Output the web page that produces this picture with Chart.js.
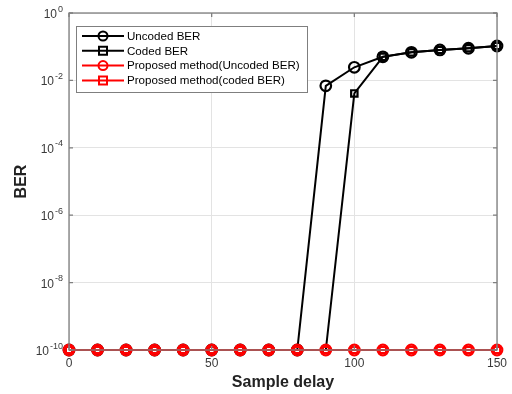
<!DOCTYPE html>
<html><head><meta charset="utf-8">
<script src="https://cdn.jsdelivr.net/npm/chart.js@4/dist/chart.umd.min.js"></script>
<style>html,body{margin:0;padding:0;background:#fff}#wrap{width:512px;height:394px}</style>
</head><body><div id="wrap"><canvas id="c" width="512" height="394"></canvas></div>
<script>
const sampleDelay = [0,10,20,30,40,50,60,70,80,90,100,110,120,130,140,150];
const uncodedBER = [1e-10,1e-10,1e-10,1e-10,1e-10,1e-10,1e-10,1e-10,1e-10,6.9e-3,2.45e-2,5e-2,6.8e-2,8e-2,9e-2,1.05e-1];
const codedBER   = [1e-10,1e-10,1e-10,1e-10,1e-10,1e-10,1e-10,1e-10,1e-10,1e-10,4.1e-3,5e-2,6.8e-2,8e-2,9e-2,1.05e-1];
const proposedUncoded = [1e-10,1e-10,1e-10,1e-10,1e-10,1e-10,1e-10,1e-10,1e-10,1e-10,1e-10,1e-10,1e-10,1e-10,1e-10,1e-10];
const proposedCoded   = [1e-10,1e-10,1e-10,1e-10,1e-10,1e-10,1e-10,1e-10,1e-10,1e-10,1e-10,1e-10,1e-10,1e-10,1e-10,1e-10];
const xTicks = [0,50,100,150];
const yExponents = [0,-2,-4,-6,-8,-10];
const seriesNames = ['Uncoded BER','Coded BER','Proposed method(Uncoded BER)','Proposed method(coded BER)'];

const pts = arr => sampleDelay.map((x,i)=>({x, y:arr[i]}));
const FONT = '"Liberation Sans", Arial, sans-serif';

const styles = [
  {color:'#000', shape:'circle', order:2},
  {color:'#000', shape:'rect', order:2},
  {color:'#ff0000', shape:'circle', order:0},
  {color:'#ff0000', shape:'rect', order:0}
];
const datasets = [uncodedBER, codedBER, proposedUncoded, proposedCoded].map((arr,i)=>({
  label: seriesNames[i],
  data: pts(arr),
  borderColor: styles[i].color,
  backgroundColor: 'rgba(0,0,0,0)',
  pointBorderColor: styles[i].color,
  pointBackgroundColor: 'rgba(0,0,0,0)',
  pointStyle: styles[i].shape,
  pointRadius: styles[i].shape==='rect'?4.5:5.3,
  pointBorderWidth: 2.2,
  borderWidth: 2,
  tension: 0,
  order: styles[i].order,
  clip: false
}));

function drawMarker(ctx, shape, x, y, r, color){
  ctx.save();
  ctx.strokeStyle=color; ctx.lineWidth=2;
  ctx.beginPath();
  if(shape==='circle'){ ctx.arc(x,y,r,0,Math.PI*2); }
  else { ctx.rect(x-r,y-r,2*r,2*r); }
  ctx.stroke();
  ctx.restore();
}

const framePlugin = {
  id:'frame',
  afterDraw(chart){
    const ctx = chart.ctx, a = chart.chartArea;
    const xs = chart.scales.x, ys = chart.scales.y;
    ctx.save();
    ctx.strokeStyle='#7f7f7f'; ctx.lineWidth=1.3;
    ctx.strokeRect(a.left, a.top, a.right-a.left, a.bottom-a.top);
    ctx.beginPath();
    xTicks.forEach(v=>{const px=xs.getPixelForValue(v);
      ctx.moveTo(px,a.bottom); ctx.lineTo(px,a.bottom-4);
      ctx.moveTo(px,a.top); ctx.lineTo(px,a.top+4);});
    yExponents.forEach(e=>{const py=ys.getPixelForValue(Math.pow(10,e));
      ctx.moveTo(a.left,py); ctx.lineTo(a.left+4,py);
      ctx.moveTo(a.right,py); ctx.lineTo(a.right-4,py);});
    ctx.stroke();
    ctx.fillStyle='#3a3a3a';
    yExponents.forEach(e=>{
      const py=ys.getPixelForValue(Math.pow(10,e));
      const sup=String(e);
      ctx.font='9px '+FONT;
      const sw=ctx.measureText(sup).width;
      ctx.font='12px '+FONT;
      const bw=ctx.measureText('10').width;
      const right=a.left-6;
      ctx.textBaseline='alphabetic'; ctx.textAlign='left';
      ctx.fillText('10', right-sw-bw-1, py+5);
      ctx.font='9px '+FONT;
      ctx.fillText(sup, right-sw, py-1.5);
    });
    const lx=76, ly=26, lw=231, lh=66;
    ctx.fillStyle='#fff'; ctx.fillRect(lx,ly,lw,lh);
    ctx.strokeStyle='#7f7f7f'; ctx.lineWidth=1; ctx.strokeRect(lx+0.5,ly+0.5,lw,lh);
    seriesNames.forEach((n,i)=>{
      const yy = ly+10+i*14.8;
      const c = styles[i].color;
      ctx.strokeStyle=c; ctx.lineWidth=2;
      ctx.beginPath(); ctx.moveTo(82,yy); ctx.lineTo(124,yy); ctx.stroke();
      drawMarker(ctx, styles[i].shape, 103, yy, styles[i].shape==='rect'?4:4.5, c);
      ctx.fillStyle='#000'; ctx.font='11.6px '+FONT; ctx.textAlign='left'; ctx.textBaseline='middle';
      ctx.fillText(n, 127, yy+0.5);
    });
    ctx.fillStyle='#222'; ctx.font='bold 16px '+FONT; ctx.textAlign='center'; ctx.textBaseline='middle';
    ctx.fillText('Sample delay', (a.left+a.right)/2, 383);
    ctx.save(); ctx.translate(22, (a.top+a.bottom)/2); ctx.rotate(-Math.PI/2);
    ctx.fillText('BER', 0, 0); ctx.restore();
    ctx.restore();
  }
};

new Chart(document.getElementById('c'), {
  type:'line',
  data:{datasets},
  options:{
    responsive:false, animation:false, devicePixelRatio:1,
    layout:{padding:{top:13,right:15,left:0,bottom:0}},
    plugins:{legend:{display:false}, tooltip:{enabled:false}},
    scales:{
      x:{type:'linear', min:0, max:150,
        afterBuildTicks(s){ s.ticks = xTicks.map(v=>({value:v})); },
        afterFit(s){ s.height=44; s.paddingRight=0; s.paddingLeft=0; },
        grid:{color:'#e3e3e3', drawTicks:false, lineWidth:1},
        border:{display:false},
        ticks:{padding:6, color:'#3a3a3a', font:{family:FONT,size:12}, maxRotation:0}
      },
      y:{type:'logarithmic', min:1e-10, max:1,
        afterBuildTicks(s){ s.ticks = yExponents.map(e=>({value:Math.pow(10,e)})); },
        afterFit(s){ s.width=69; s.paddingTop=0; s.paddingBottom=0; },
        grid:{color:'#e3e3e3', drawTicks:false, lineWidth:1},
        border:{display:false},
        ticks:{callback:()=>'', padding:0}
      }
    }
  },
  plugins:[framePlugin]
});
</script>
</body></html>
